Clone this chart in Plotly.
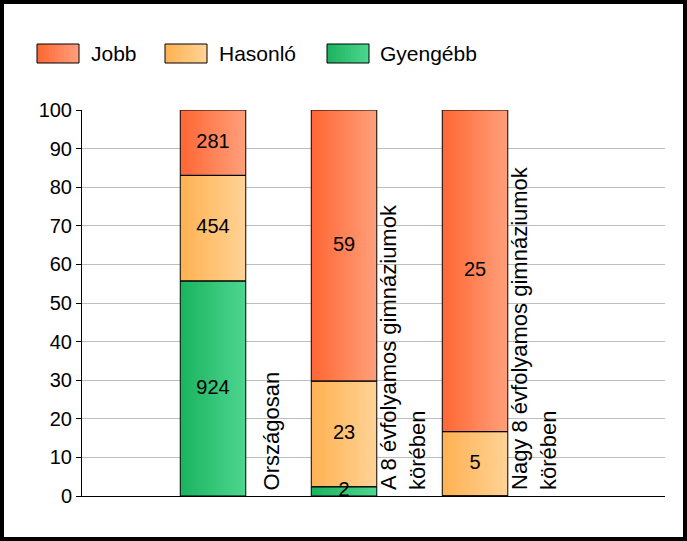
import plotly.graph_objects as go
import numpy as np

# data (counts per category)
categories = ["Országosan", "A 8 évfolyamos gimnáziumok<br>körében", "Nagy 8 évfolyamos gimnáziumok<br>körében"]
series_names = ["Gyengébb", "Hasonló", "Jobb"]
gyengebb = [924, 2, 0]
hasonlo = [454, 23, 5]
jobb = [281, 59, 25]

# gradient colours (left -> right) per series
grad = {
    "Gyengébb": ("#1BB35F", "#4DD690"),
    "Hasonló": ("#FFB152", "#FFD396"),
    "Jobb": ("#FF6633", "#FFA07C"),
}

W, H = 687, 541
L, R, T, B = 82, 22, 110, 45
PW, PH = W - L - R, H - T - B
FONT = "Liberation Sans, Arial, sans-serif"


def mix(c1, c2, t):
    a = [int(c1[i:i + 2], 16) for i in (1, 3, 5)]
    b = [int(c2[i:i + 2], 16) for i in (1, 3, 5)]
    return "rgb(%d,%d,%d)" % tuple(round(a[j] + (b[j] - a[j]) * t) for j in range(3))


def px_x(p):
    return (p - L) / PW


def px_y(p):
    return (H - B - p) / PH


counts = np.array([gyengebb, hasonlo, jobb], dtype=float)
totals = counts.sum(axis=0)
pct = counts / totals * 100
base = np.vstack([np.zeros(3), np.cumsum(pct, axis=0)[:-1]])

xs = [1, 2, 3]
bar_w = 0.5
n_strips = 24
dw = bar_w / n_strips

fig = go.Figure()

# gradient strips
for s, name in enumerate(series_names):
    c1, c2 = grad[name]
    for k in range(n_strips):
        off = -bar_w / 2 + k * dw
        fig.add_trace(go.Bar(
            x=xs, y=pct[s], base=base[s],
            width=min(dw * 1.6, bar_w / 2 - off), offset=off,
            marker=dict(color=mix(c1, c2, (k + 0.5) / n_strips), line=dict(width=0)),
            showlegend=False, hoverinfo="skip",
        ))

# outlines
for s, name in enumerate(series_names):
    fig.add_trace(go.Bar(
        x=xs, y=pct[s], base=base[s], width=bar_w, name=name,
        marker=dict(color="rgba(0,0,0,0)", line=dict(color="black", width=1)),
        showlegend=False,
        customdata=counts[s], hovertemplate="%{customdata}<extra>" + name + "</extra>",
    ))

# value labels
lx, ly, lt = [], [], []
for s in range(3):
    for i in range(3):
        if counts[s][i] > 0:
            lx.append(xs[i])
            ly.append(base[s][i] + pct[s][i] / 2)
            lt.append(str(int(counts[s][i])))
fig.add_trace(go.Scatter(
    x=lx, y=ly, text=lt, mode="text", showlegend=False, hoverinfo="skip",
    textfont=dict(family=FONT, size=20, color="black"),
))

# category labels, rotated next to each bar
for i, cat in enumerate(categories):
    fig.add_annotation(
        x=xs[i] + 0.45, y=0, xref="x", yref="y", text=cat, textangle=-90,
        showarrow=False, xanchor="center", yanchor="bottom", align="left",
        yshift=4, font=dict(family=FONT, size=22, color="black"),
    )

# legend drawn by hand (gradient swatches)
shapes = []
legend_items = [("Jobb", 37, 89), ("Hasonló", 165, 217), ("Gyengébb", 327, 378)]
for name, sx, tx in legend_items:
    c1, c2 = grad[name]
    n = 14
    for k in range(n):
        shapes.append(dict(
            type="rect", xref="paper", yref="paper",
            x0=px_x(sx + 42 * k / n), x1=px_x(sx + 42 * (k + 1.3) / n if k < n - 1 else sx + 42),
            y0=px_y(63), y1=px_y(44), fillcolor=mix(c1, c2, (k + 0.5) / n), line=dict(width=0),
        ))
    shapes.append(dict(
        type="rect", xref="paper", yref="paper",
        x0=px_x(sx), x1=px_x(sx + 42), y0=px_y(63), y1=px_y(44),
        line=dict(color="black", width=1),
    ))
    fig.add_annotation(
        x=px_x(tx), y=px_y(54), xref="paper", yref="paper", text=name,
        showarrow=False, xanchor="left", yanchor="middle",
        font=dict(family=FONT, size=21, color="black"),
    )

# outer frame
shapes.append(dict(
    type="rect", xref="paper", yref="paper",
    x0=px_x(2), x1=px_x(W - 2), y0=px_y(H - 2), y1=px_y(2),
    line=dict(color="black", width=4),
))

fig.update_layout(
    width=W, height=H,
    margin=dict(l=L, r=R, t=T, b=B, pad=0),
    barmode="overlay",
    plot_bgcolor="white", paper_bgcolor="white",
    font=dict(family=FONT, size=20, color="black"),
    shapes=shapes,
    showlegend=False,
    xaxis=dict(range=[0, 4.45], showticklabels=False, ticks="", showgrid=False,
               zeroline=False, showline=True, linecolor="black", linewidth=1),
    yaxis=dict(range=[0, 100], dtick=10, ticks="outside", ticklen=5, tickcolor="black",
               showgrid=True, gridcolor="#BEBEBE", gridwidth=1, zeroline=False,
               showline=True, linecolor="black", linewidth=1,
               tickfont=dict(family=FONT, size=20, color="black")),
)

fig.write_html("out.html", config={"displayModeBar": False},
               post_script="document.body.style.margin='0';")
